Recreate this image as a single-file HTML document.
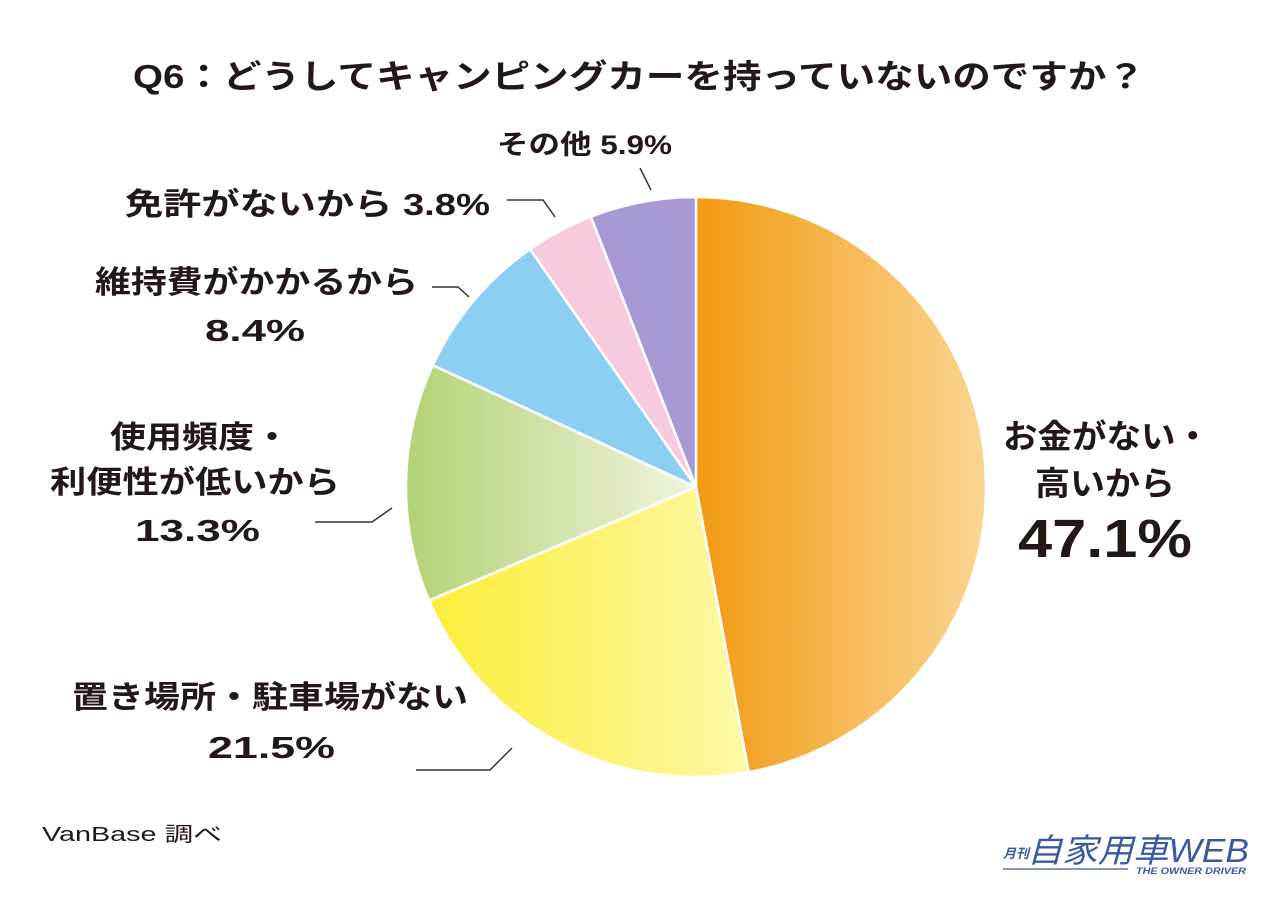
<!DOCTYPE html>
<html><head><meta charset="utf-8"><style>
html,body{margin:0;padding:0;background:#fff;}
svg text{font-family:"Liberation Sans","Noto Sans CJK JP",sans-serif;font-weight:bold;fill:#231815;}
</style></head><body>
<svg width="1280" height="897" viewBox="0 0 1280 897" xmlns="http://www.w3.org/2000/svg">
<defs>
<linearGradient id="go" x1="696" y1="0" x2="986" y2="0" gradientUnits="userSpaceOnUse"><stop offset="0" stop-color="#f29a12"/><stop offset="1" stop-color="#f9d693"/></linearGradient>
<linearGradient id="gy" x1="430" y1="0" x2="750" y2="0" gradientUnits="userSpaceOnUse"><stop offset="0" stop-color="#fcee3a"/><stop offset="1" stop-color="#fdf8a8"/></linearGradient>
<linearGradient id="gg" x1="406" y1="0" x2="696" y2="0" gradientUnits="userSpaceOnUse"><stop offset="0" stop-color="#b3d275"/><stop offset="1" stop-color="#f0f5e0"/></linearGradient>
</defs>
<text x="133" y="88" font-size="33" textLength="1012" lengthAdjust="spacingAndGlyphs">Q6：どうしてキャンピングカーを持っていないのですか？</text>
<g stroke="#fff" stroke-width="2.5" stroke-linejoin="round">
<path d="M696,487 L696,197 A290,290 0 0 1 748.6,772.2 Z" fill="url(#go)"/>
<path d="M696,487 L748.6,772.2 A290,290 0 0 1 429.1,600.5 Z" fill="url(#gy)"/>
<path d="M696,487 L429.1,600.5 A290,290 0 0 1 432.8,365.2 Z" fill="url(#gg)"/>
<path d="M696,487 L432.8,365.2 A290,290 0 0 1 530,249.2 Z" fill="#8ccff3"/>
<path d="M696,487 L530,249.2 A290,290 0 0 1 590.9,216.7 Z" fill="#f6cbe0"/>
<path d="M696,487 L590.9,216.7 A290,290 0 0 1 696,197 Z" fill="#a898d4"/>
</g>
<g stroke="#333" stroke-width="1.5" fill="none">
<path d="M640,168 L651,190"/>
<path d="M507,200 L543,200 L555,217"/>
<path d="M432,287 L458,287 L469,297"/>
<path d="M315,522 L372,522 L392,508"/>
<path d="M416,770 L490,770 L512,748"/>
</g>
<text x="497" y="154" font-size="27" textLength="175" lengthAdjust="spacingAndGlyphs">その他 5.9%</text>
<text x="125" y="215" font-size="31" textLength="365" lengthAdjust="spacingAndGlyphs">免許がないから 3.8%</text>
<text x="95" y="293" font-size="31" textLength="323" lengthAdjust="spacingAndGlyphs">維持費がかかるから</text>
<text x="205" y="341" font-size="31" textLength="100" lengthAdjust="spacingAndGlyphs">8.4%</text>
<text x="110" y="448" font-size="31" textLength="180" lengthAdjust="spacingAndGlyphs">使用頻度・</text>
<text x="50" y="493" font-size="31" textLength="290" lengthAdjust="spacingAndGlyphs">利便性が低いから</text>
<text x="135" y="541" font-size="31" textLength="125" lengthAdjust="spacingAndGlyphs">13.3%</text>
<text x="72" y="708" font-size="31" textLength="396" lengthAdjust="spacingAndGlyphs">置き場所・駐車場がない</text>
<text x="208" y="758" font-size="31" textLength="127" lengthAdjust="spacingAndGlyphs">21.5%</text>
<text x="1003" y="448" font-size="33" textLength="207" lengthAdjust="spacingAndGlyphs">お金がない・</text>
<text x="1035" y="495" font-size="33" textLength="140" lengthAdjust="spacingAndGlyphs">高いから</text>
<text x="1018" y="557" font-size="54" textLength="174" lengthAdjust="spacingAndGlyphs">47.1%</text>
<text x="42" y="841" font-size="20" textLength="180" lengthAdjust="spacingAndGlyphs" style="font-weight:normal">VanBase 調べ</text>
<text x="1003" y="858" font-size="13" style="fill:#3a5aa0" font-style="italic">月刊</text>
<text x="1027" y="862" font-size="33" textLength="222" lengthAdjust="spacingAndGlyphs" style="fill:#3a5aa0;font-weight:normal" font-style="italic">自家用車WEB</text>
<rect x="1003" y="868" width="125" height="2" fill="#8a96b8"/>
<text x="1136" y="874" font-size="9" textLength="110" lengthAdjust="spacingAndGlyphs" style="fill:#3a5aa0" font-style="italic">THE OWNER DRIVER</text>
</svg>
</body></html>
